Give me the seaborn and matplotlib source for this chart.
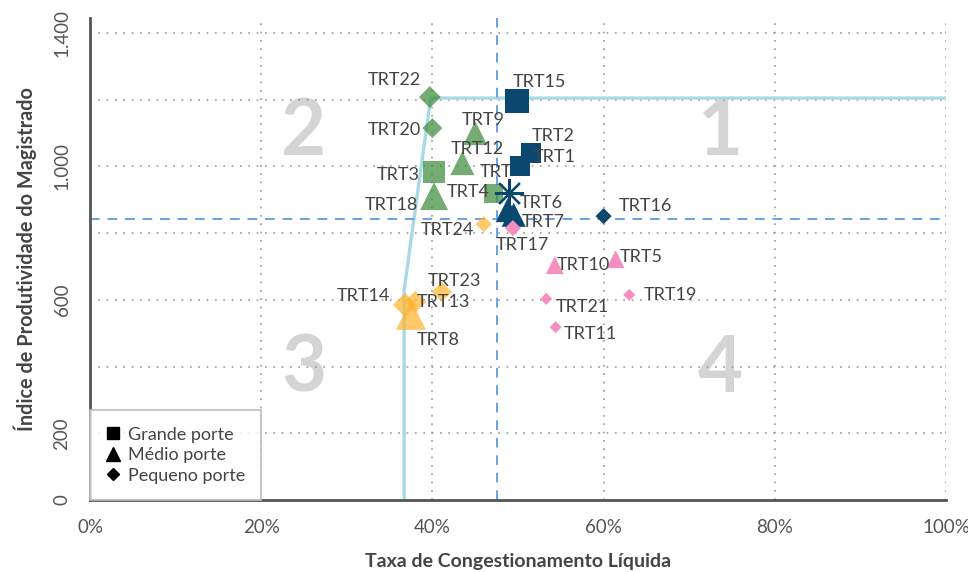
# Dispersão: produtividade do magistrado x taxa de congestionamento líquida (TRTs)
import pandas as pd
import seaborn as sns
import matplotlib.pyplot as plt
from matplotlib.lines import Line2D

# dados
tribunais = ['TRT15', 'TRT2', 'TRT1', 'TRT6', 'TRT7', 'TRT16',
             'TRT3', 'TRT4', 'TRT22', 'TRT20', 'TRT9', 'TRT12', 'TRT18',
             'TRT24', 'TRT23', 'TRT14', 'TRT13', 'TRT8',
             'TRT17', 'TRT10', 'TRT5', 'TRT21', 'TRT19', 'TRT11']
taxa = [0.499, 0.515, 0.502, 0.488, 0.495, 0.600,
        0.402, 0.471, 0.397, 0.400, 0.450, 0.435, 0.402,
        0.460, 0.411, 0.368, 0.380, 0.375,
        0.494, 0.543, 0.614, 0.533, 0.630, 0.544]
ipm = [1196, 1040, 1001, 869, 855, 851,
       983, 920, 1208, 1115, 1100, 1010, 911,
       827, 624, 585, 594, 555,
       815, 704, 722, 603, 615, 518]
porte = ['Grande', 'Grande', 'Grande', 'Médio', 'Médio', 'Pequeno',
         'Grande', 'Grande', 'Pequeno', 'Pequeno', 'Médio', 'Médio', 'Médio',
         'Pequeno', 'Pequeno', 'Pequeno', 'Pequeno', 'Médio',
         'Pequeno', 'Médio', 'Médio', 'Pequeno', 'Pequeno', 'Pequeno']
peso = [5.8, 4.0, 4.0, 5.8, 5.8, 1.3,
        4.8, 3.6, 2.4, 2.0, 5.8, 5.8, 7.8,
        1.3, 2.0, 2.9, 2.4, 9.0,
        1.3, 3.2, 3.2, 0.72, 0.72, 0.72]
quadrante = [1, 1, 1, 1, 1, 1,
             2, 2, 2, 2, 2, 2, 2,
             3, 3, 3, 3, 3,
             4, 4, 4, 4, 4, 4]

# ponto "TRT" (asterisco)
media_taxa = 0.489
media_ipm = 920

# linhas de referência
ref_taxa = 0.4755
ref_ipm = 842
fronteira_x = [0.367, 0.367, 0.398, 1.0]
fronteira_y = [0, 630, 1205, 1205]

xticks = [0, 0.2, 0.4, 0.6, 0.8, 1.0]
xlabels = ['0%', '20%', '40%', '60%', '80%', '100%']
yticks = [0, 200, 400, 600, 800, 1000, 1200, 1400]
ylabels = ['0', '200', '', '600', '', '1.000', '', '1.400']

# deslocamento dos rótulos (pixels) e alinhamento
offsets = {
    'TRT22': (-9, 17, 'right'), 'TRT15': (-4, 19, 'left'),
    'TRT9': (-13, 13, 'left'), 'TRT20': (-11, -2, 'right'),
    'TRT2': (1, 17, 'left'), 'TRT12': (-12, 14, 'left'),
    'TRT1': (13, 9, 'left'), 'TRT3': (-14, -3, 'right'),
    'TRT4': (-46, 1, 'left'), 'TRT6': (12, 7, 'left'),
    'TRT18': (-16, -9, 'right'), 'TRT16': (15, 10, 'left'),
    'TRT7': (8, -7, 'left'), 'TRT24': (-10, -6, 'right'),
    'TRT17': (-17, -17, 'left'), 'TRT10': (2, 0, 'left'),
    'TRT5': (4, 2, 'left'), 'TRT23': (-14, 11, 'left'),
    'TRT19': (14, 0, 'left'), 'TRT14': (-15, 9, 'right'),
    'TRT13': (1, 0, 'left'), 'TRT21': (10, -8, 'left'),
    'TRT11': (8, -7, 'left'), 'TRT8': (6, -25, 'left'),
}

df = pd.DataFrame({'trt': tribunais, 'taxa': taxa, 'ipm': ipm,
                   'porte': porte, 'peso': peso, 'quad': quadrante})

cores = {1: ('#0b4870', 1.0), 2: ('#3f8c3f', 0.72),
         3: ('#ffb530', 0.72), 4: ('#f48fbf', 1.0)}
marcadores = {'Grande': 's', 'Médio': '^', 'Pequeno': 'D'}

sns.set_style('white')
plt.rcParams['font.family'] = ['Lato', 'DejaVu Sans']

fig = plt.figure(figsize=(9.68, 5.72), dpi=100)
ax = fig.add_axes([90 / 968, 72 / 572, 856 / 968, 482 / 572])

# números dos quadrantes
for num, qx, qy in [('1', 0.736, 1100), ('2', 0.25, 1100),
                    ('3', 0.25, 390), ('4', 0.736, 390)]:
    ax.text(qx, qy, num, fontsize=56, fontweight='bold', color='#d4d4d4',
            ha='center', va='center', zorder=0)

ax.plot(fronteira_x, fronteira_y, color='#a9d9e6', lw=2.4, zorder=1)
ax.axvline(ref_taxa, color='#6b9fe8', lw=1.4, ls=(0, (5, 4)), zorder=1)
ax.axhline(ref_ipm, color='#6b9fe8', lw=1.4, ls=(0, (5, 4)), zorder=1)

for q, (cor, alfa) in cores.items():
    sub = df[df['quad'] == q]
    sns.scatterplot(data=sub, x='taxa', y='ipm', style='porte',
                    markers=marcadores, size='peso', sizes=(37, 467),
                    size_norm=(0.72, 9.0), color=cor, alpha=alfa,
                    linewidth=0, legend=False, ax=ax, zorder=3)

ax.plot(media_taxa, media_ipm, marker=(8, 2, 0), markersize=21,
        color='#0b4870', mew=1.6, linestyle='none', zorder=4)
ax.annotate('TRT', (media_taxa, media_ipm), xytext=(-29, 21),
            textcoords='offset pixels', ha='left', va='center',
            fontsize=13, color='#444444', zorder=2)

for _, r in df.iterrows():
    dx, dy, ha = offsets[r['trt']]
    ax.annotate(r['trt'], (r['taxa'], r['ipm']), xytext=(dx, dy),
                textcoords='offset pixels', ha=ha, va='center',
                fontsize=13, color='#444444', zorder=5)

ax.set_xlim(0, 1)
ax.set_ylim(0, 1445)
ax.set_xticks(xticks, labels=xlabels)
ax.set_yticks(yticks, labels=ylabels)
plt.setp(ax.get_yticklabels(), rotation=90, va='center')
ax.tick_params(axis='both', length=8, width=2, color='#555555',
               labelsize=13.5, labelcolor='#555555', pad=6)
ax.grid(True, color='#999999', ls=(0, (1, 4)), lw=1.2)
ax.set_axisbelow(True)
for s in ['top', 'right']:
    ax.spines[s].set_visible(False)
for s in ['left', 'bottom']:
    ax.spines[s].set_color('#555555')
    ax.spines[s].set_linewidth(2)

ax.set_xlabel('Taxa de Congestionamento Líquida', fontsize=14,
              fontweight='bold', color='#444444', labelpad=12)
ax.set_ylabel('Índice de Produtividade do Magistrado', fontsize=14.3,
              fontweight='bold', color='#444444', labelpad=12)

handles = [Line2D([], [], marker=m, color='black', linestyle='none',
                  markersize=s)
           for m, s in [('s', 9), ('^', 10), ('D', 6)]]
leg = ax.legend(handles, ['Grande porte', 'Médio porte', 'Pequeno porte'],
                loc='lower left', bbox_to_anchor=(0, 0), borderaxespad=0,
                fancybox=False, fontsize=13, handlelength=0.8,
                handletextpad=0.4, labelspacing=0.25, borderpad=0.9,
                labelcolor='#444444')
leg.get_frame().set_edgecolor('#bbbbbb')
leg.get_frame().set_linewidth(1.5)

fig.savefig('out.png', dpi=100)
